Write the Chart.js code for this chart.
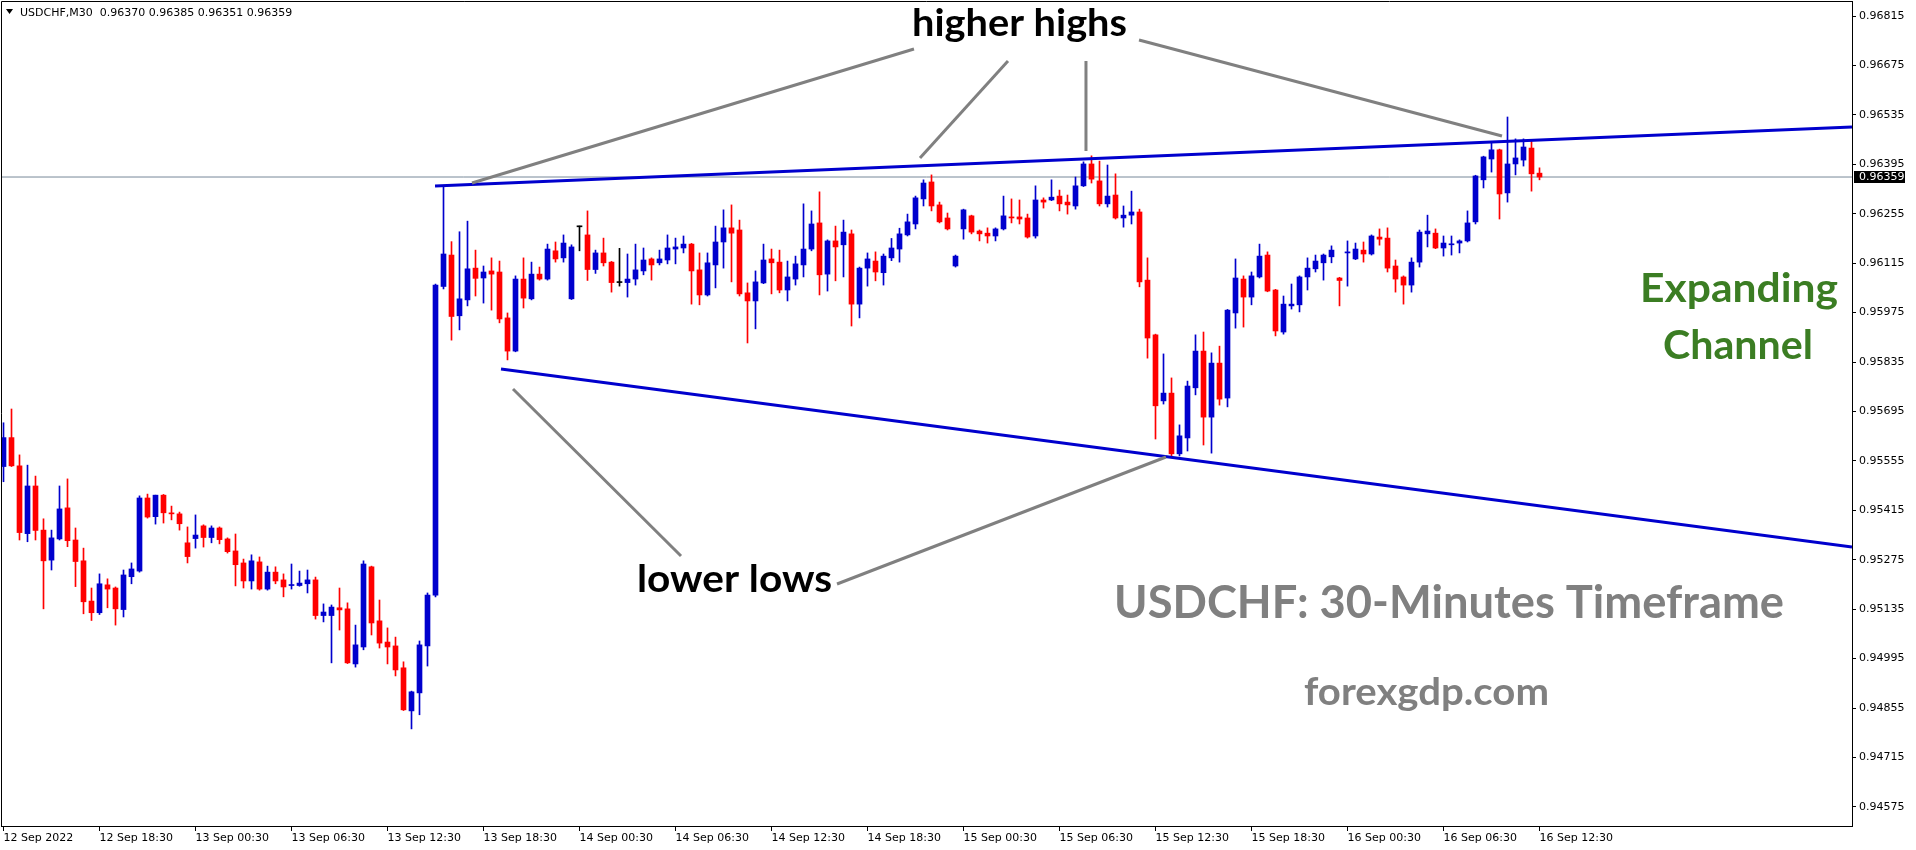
<!DOCTYPE html>
<html><head><meta charset="utf-8">
<script src="https://cdn.jsdelivr.net/npm/chart.js@4/dist/chart.umd.min.js"></script>
<style>html,body{margin:0;padding:0;background:#fff;overflow:hidden}canvas{display:block}</style>
</head><body>
<canvas id="c" width="1916" height="850"></canvas>
<script>
// ---------- DATA ----------
const symbolTitle = 'USDCHF,M30';
const timeLabels = ['12 Sep 2022','12 Sep 18:30','13 Sep 00:30','13 Sep 06:30','13 Sep 12:30','13 Sep 18:30','14 Sep 00:30','14 Sep 06:30','14 Sep 12:30','14 Sep 18:30','15 Sep 00:30','15 Sep 06:30','15 Sep 12:30','15 Sep 18:30','16 Sep 00:30','16 Sep 06:30','16 Sep 12:30'];
const timeLabelBars = [0,12,24,36,48,60,72,84,96,108,120,132,144,156,168,180,192];
const priceTicks = [0.94575,0.94715,0.94855,0.94995,0.95135,0.95275,0.95415,0.95555,0.95695,0.95835,0.95975,0.96115,0.96255,0.96395,0.96535,0.96675,0.96815];

const opens = [0.95539,0.95621,0.95541,0.95349,0.95484,0.95359,0.95274,0.95334,0.95422,0.95331,0.95272,0.95158,0.95125,0.95204,0.95195,0.95134,0.95227,0.95243,0.95450,0.95397,
0.95458,0.95407,0.95405,0.95323,0.95335,0.95371,0.95338,0.95365,0.95334,0.95300,0.95266,0.95215,0.95269,0.95192,0.95240,0.95218,0.95202,0.95202,0.95207,0.95218,
0.95117,0.95117,0.95139,0.95136,0.94980,0.95028,0.95255,0.95102,0.95042,0.95031,0.94969,0.94847,0.94898,0.95031,0.95175,0.96049,0.96138,0.95966,0.96011,0.96101,
0.96073,0.96093,0.96090,0.95960,0.95866,0.96070,0.96014,0.96084,0.96070,0.96150,0.96130,0.96014,0.96218,0.96195,0.96097,0.96144,0.96118,0.96060,0.96060,0.96070,
0.96093,0.96127,0.96116,0.96124,0.96155,0.96158,0.96169,0.96096,0.96025,0.96110,0.96175,0.96215,0.96209,0.96031,0.96008,0.96059,0.96127,0.96118,0.96039,0.96070,
0.96110,0.96155,0.96229,0.96084,0.96178,0.96167,0.96198,0.95999,0.96101,0.96121,0.96088,0.96130,0.96155,0.96195,0.96226,0.96297,0.96345,0.96280,0.96243,0.96107,
0.96212,0.96249,0.96206,0.96200,0.96192,0.96212,0.96246,0.96246,0.96243,0.96192,0.96294,0.96294,0.96305,0.96288,0.96277,0.96334,0.96396,0.96348,0.96283,0.96308,
0.96243,0.96251,0.96260,0.96067,0.95912,0.95725,0.95747,0.95575,0.95620,0.95762,0.95866,0.95679,0.95832,0.95733,0.95974,0.96070,0.96019,0.96076,0.96138,0.96039,
0.95920,0.95994,0.95997,0.96076,0.96099,0.96116,0.96133,0.96073,0.96144,0.96127,0.96152,0.96141,0.96189,0.96186,0.96107,0.96076,0.96053,0.96118,0.96198,0.96200,
0.96158,0.96167,0.96172,0.96178,0.96232,0.96351,0.96410,0.96436,0.96314,0.96396,0.96407,0.96441,0.96370];
const highs = [0.95663,0.95702,0.95572,0.95543,0.95512,0.95391,0.95359,0.95484,0.95504,0.95365,0.95308,0.95195,0.95235,0.95221,0.95198,0.95246,0.95266,0.95456,0.95461,0.95458,
0.95460,0.95427,0.95410,0.95368,0.95402,0.95374,0.95371,0.95368,0.95337,0.95348,0.95277,0.95289,0.95283,0.95257,0.95255,0.95235,0.95263,0.95243,0.95246,0.95226,
0.95150,0.95147,0.95195,0.95153,0.95090,0.95272,0.95257,0.95161,0.95082,0.95056,0.94986,0.94903,0.95045,0.95181,0.96056,0.96332,0.96176,0.96204,0.96234,0.96152,
0.96107,0.96130,0.96121,0.95974,0.96079,0.96130,0.96118,0.96104,0.96169,0.96175,0.96195,0.96167,0.96220,0.96263,0.96152,0.96186,0.96120,0.96157,0.96141,0.96169,
0.96158,0.96130,0.96152,0.96195,0.96186,0.96192,0.96171,0.96144,0.96144,0.96220,0.96266,0.96280,0.96237,0.96059,0.96093,0.96169,0.96155,0.96152,0.96121,0.96135,
0.96283,0.96263,0.96317,0.96181,0.96220,0.96237,0.96209,0.96104,0.96144,0.96147,0.96141,0.96185,0.96214,0.96254,0.96305,0.96351,0.96365,0.96288,0.96257,0.96138,
0.96268,0.96251,0.96209,0.96215,0.96215,0.96305,0.96297,0.96294,0.96254,0.96334,0.96300,0.96351,0.96322,0.96308,0.96359,0.96402,0.96419,0.96404,0.96393,0.96368,
0.96277,0.96319,0.96268,0.96130,0.95914,0.95858,0.95790,0.95657,0.95781,0.95912,0.95920,0.95861,0.95880,0.95984,0.96127,0.96079,0.96090,0.96169,0.96147,0.96041,
0.96022,0.96056,0.96079,0.96130,0.96138,0.96141,0.96164,0.96075,0.96178,0.96172,0.96175,0.96195,0.96212,0.96215,0.96124,0.96079,0.96130,0.96209,0.96251,0.96212,
0.96192,0.96192,0.96181,0.96263,0.96364,0.96418,0.96455,0.96438,0.96529,0.96467,0.96467,0.96464,0.96385];
const lows = [0.95496,0.95539,0.95331,0.95326,0.95331,0.95136,0.95246,0.95331,0.95312,0.95199,0.95122,0.95103,0.95120,0.95139,0.95090,0.95113,0.95207,0.95240,0.95393,0.95376,
0.95379,0.95388,0.95359,0.95266,0.95308,0.95311,0.95323,0.95320,0.95294,0.95201,0.95195,0.95192,0.95189,0.95189,0.95207,0.95170,0.95192,0.95200,0.95181,0.95107,
0.95099,0.94983,0.95076,0.94981,0.94971,0.95020,0.95062,0.95025,0.94980,0.94946,0.94848,0.94796,0.94836,0.94974,0.95170,0.96042,0.95897,0.95926,0.95994,0.96022,
0.96002,0.95982,0.95946,0.95841,0.95864,0.95988,0.96011,0.96067,0.96067,0.96118,0.96118,0.96012,0.96150,0.96066,0.96086,0.96107,0.96033,0.96050,0.96019,0.96053,
0.96082,0.96067,0.96110,0.96113,0.96113,0.96144,0.95999,0.95997,0.96022,0.96045,0.96101,0.96062,0.96022,0.95889,0.95929,0.96057,0.96028,0.96031,0.96008,0.96053,
0.96076,0.96150,0.96025,0.96036,0.96065,0.96076,0.95937,0.95960,0.96050,0.96065,0.96053,0.96122,0.96118,0.96192,0.96212,0.96277,0.96263,0.96229,0.96209,0.96104,
0.96183,0.96198,0.96178,0.96172,0.96178,0.96209,0.96229,0.96226,0.96186,0.96186,0.96271,0.96292,0.96263,0.96254,0.96268,0.96332,0.96342,0.96277,0.96274,0.96240,
0.96217,0.96226,0.96048,0.95846,0.95617,0.95716,0.95569,0.95569,0.95583,0.95742,0.95600,0.95577,0.95713,0.95708,0.95931,0.95934,0.95997,0.96073,0.96034,0.95909,
0.95914,0.95985,0.95977,0.96039,0.96090,0.96067,0.96116,0.95994,0.96050,0.96125,0.96118,0.96138,0.96166,0.96090,0.96033,0.95999,0.96033,0.96104,0.96161,0.96156,
0.96135,0.96138,0.96144,0.96175,0.96226,0.96328,0.96373,0.96240,0.96288,0.96365,0.96390,0.96319,0.96351];
const closes = [0.95621,0.95541,0.95352,0.95484,0.95358,0.95272,0.95337,0.95419,0.95329,0.95270,0.95156,0.95125,0.95207,0.95192,0.95136,0.95232,0.95249,0.95450,0.95396,0.95458,
0.95408,0.95405,0.95377,0.95284,0.95345,0.95338,0.95365,0.95332,0.95298,0.95261,0.95215,0.95272,0.95192,0.95240,0.95215,0.95198,0.95204,0.95209,0.95218,0.95117,
0.95127,0.95141,0.95133,0.94983,0.95034,0.95263,0.95096,0.95039,0.95028,0.94963,0.94850,0.94901,0.95034,0.95175,0.96053,0.96141,0.95964,0.96014,0.96099,0.96072,
0.96090,0.96084,0.95957,0.95866,0.96070,0.96016,0.96084,0.96070,0.96155,0.96127,0.96172,0.96161,0.96218,0.96097,0.96144,0.96116,0.96060,0.96060,0.96070,0.96096,
0.96124,0.96110,0.96127,0.96158,0.96161,0.96169,0.96093,0.96025,0.96116,0.96175,0.96215,0.96200,0.96028,0.96008,0.96062,0.96124,0.96116,0.96039,0.96076,0.96113,
0.96155,0.96226,0.96082,0.96178,0.96161,0.96203,0.95999,0.96101,0.96127,0.96090,0.96135,0.96158,0.96198,0.96232,0.96300,0.96342,0.96277,0.96232,0.96212,0.96135,
0.96266,0.96203,0.96198,0.96192,0.96212,0.96249,0.96243,0.96240,0.96189,0.96294,0.96288,0.96302,0.96283,0.96280,0.96334,0.96396,0.96353,0.96283,0.96305,0.96243,
0.96251,0.96260,0.96062,0.95903,0.95711,0.95747,0.95575,0.95626,0.95767,0.95866,0.95679,0.95832,0.95730,0.95982,0.96073,0.96019,0.96079,0.96135,0.96036,0.95923,
0.95999,0.95999,0.96076,0.96101,0.96121,0.96138,0.96152,0.96066,0.96147,0.96155,0.96141,0.96192,0.96183,0.96101,0.96070,0.96053,0.96118,0.96203,0.96206,0.96158,
0.96172,0.96169,0.96178,0.96229,0.96362,0.96416,0.96436,0.96311,0.96396,0.96413,0.96444,0.96368,0.96359];
const lastPrice = 0.96359;

// drawn objects (bar index, price)
const upperChannel = [{x:53.94,y:0.963334},{x:231.06,y:0.965006}];
const lowerChannel = [{x:62.19,y:0.958153},{x:231.06,y:0.953112}];
const pointerHH1 = [{x:113.81,y:0.967215},{x:58.56,y:0.963420}];
const pointerHH2 = [{x:125.56,y:0.966876},{x:114.56,y:0.964129}];
const pointerHH3 = [{x:135.31,y:0.966876},{x:135.31,y:0.964327}];
const pointerHH4 = [{x:141.94,y:0.967470},{x:187.31,y:0.964752}];
const pointerLL1 = [{x:84.69,y:0.952857},{x:63.69,y:0.957587}];
const pointerLL2 = [{x:104.19,y:0.952064},{x:145.31,y:0.955661}];

// ---------- CHART ----------
const BULL = '#0000cd', BEAR = '#ff0000', DOJI = '#000000';
const candleColors = opens.map((o,i)=> closes[i]>o ? BULL : (closes[i]<o ? BEAR : DOJI));
const wickData = opens.map((o,i)=>({x:i, y:[lows[i], highs[i]]}));
const bodyData = opens.map((o,i)=>({x:i, y:[o, closes[i]]}));
const X_MIN = -0.3125, X_MAX = 231.0625;
const Y_MIN = 0.945210, Y_MAX = 0.968575;
const fmt = v => v.toFixed(5);

function lineDs(data, color, width, order){
  return {type:'line', data, borderColor:color, borderWidth:width, pointRadius:0, tension:0, fill:false, order, borderCapStyle:'butt'};
}

const overlay = {
  id:'overlay',
  afterDraw(chart){
    const ctx = chart.ctx, a = chart.chartArea, ys = chart.scales.y;
    ctx.save();
    // frame left & top
    ctx.strokeStyle='#000'; ctx.lineWidth=1;
    ctx.beginPath(); ctx.moveTo(a.left+0.5, a.bottom); ctx.lineTo(a.left+0.5, a.top+0.5); ctx.lineTo(a.right, a.top+0.5); ctx.stroke();
    // header
    ctx.fillStyle='#000';
    ctx.beginPath(); ctx.moveTo(6,9); ctx.lineTo(13,9); ctx.lineTo(9.5,14); ctx.closePath(); ctx.fill();
    ctx.font='11px "DejaVu Sans"'; ctx.textBaseline='alphabetic'; ctx.textAlign='left';
    const n = opens.length-1;
    ctx.fillText(symbolTitle+'  '+fmt(opens[n])+' '+fmt(highs[n])+' '+fmt(lows[n])+' '+fmt(closes[n]), 20, 16);
    // last price box
    const py = Math.round(ys.getPixelForValue(lastPrice));
    ctx.fillStyle='#000'; ctx.fillRect(a.right+2, py-6, 51, 12);
    ctx.fillStyle='#fff'; ctx.textBaseline='middle'; ctx.fillText(fmt(lastPrice), a.right+7, py+0.5);
    // annotations
    function fit(text, cx, base, size, w, color){
      ctx.font = 'bold '+size+'px Lato';
      const m = ctx.measureText(text).width;
      ctx.save(); ctx.translate(cx, base); ctx.scale(w/m, 1);
      ctx.fillStyle=color; ctx.textAlign='center'; ctx.textBaseline='alphabetic';
      ctx.fillText(text, 0, 0); ctx.restore();
    }
    fit('higher highs', 1019.5, 36, 38, 215, '#000');
    fit('lower lows', 734.5, 592, 38, 195, '#000');
    fit('Expanding', 1739, 302, 41, 198, '#3b7d23');
    fit('Channel', 1738, 359, 41, 150, '#3b7d23');
    fit('USDCHF: 30-Minutes Timeframe', 1449, 618, 46, 670, '#808080');
    fit('forexgdp.com', 1426.5, 705, 38, 245, '#808080');
    ctx.restore();
  }
};

new Chart(document.getElementById('c'), {
  type:'bar',
  data:{ datasets:[
    lineDs(pointerHH1,'#808080',3,0), lineDs(pointerHH2,'#808080',3,0), lineDs(pointerHH3,'#808080',3,0), lineDs(pointerHH4,'#808080',3,0),
    lineDs(pointerLL1,'#808080',3,0), lineDs(pointerLL2,'#808080',3,0),
    lineDs(upperChannel,'#0000cd',3,1), lineDs(lowerChannel,'#0000cd',3,1),
    {type:'bar', data:bodyData, backgroundColor:candleColors, barThickness:5, grouped:false, minBarLength:1, borderWidth:0, order:2},
    {type:'bar', data:wickData, backgroundColor:candleColors, barThickness:1, grouped:false, borderWidth:0, order:3},
    lineDs([{x:X_MIN,y:lastPrice},{x:X_MAX,y:lastPrice}],'#778899',1,4)
  ]},
  options:{
    responsive:false, animation:false, devicePixelRatio:1, events:[],
    layout:{padding:{left:1,top:1,right:0,bottom:0}},
    plugins:{legend:{display:false}, tooltip:{enabled:false}},
    scales:{
      x:{type:'linear', position:'bottom', min:X_MIN, max:X_MAX, offset:false,
        grid:{display:true, drawOnChartArea:false, drawTicks:true, tickLength:5, color:'#000', offset:false},
        border:{display:true, color:'#000'},
        afterBuildTicks: s => { s.ticks = timeLabelBars.map(v=>({value:v})); },
        afterFit: s => { s.height = 24; s.paddingLeft = 0; s.paddingRight = 0; },
        ticks:{autoSkip:false, maxRotation:0, minRotation:0, align:'start', padding:1, color:'#000',
          font:{family:'DejaVu Sans', size:11}, callback:(v,i)=>timeLabels[i]}
      },
      y:{type:'linear', position:'right', min:Y_MIN, max:Y_MAX,
        grid:{display:true, drawOnChartArea:false, drawTicks:true, tickLength:4, color:'#000'},
        border:{display:true, color:'#000'},
        afterBuildTicks: s => { s.ticks = priceTicks.map(v=>({value:v})); },
        afterFit: s => { s.width = 64; s.paddingTop = 0; s.paddingBottom = 0; },
        ticks:{padding:3, color:'#000', font:{family:'DejaVu Sans', size:11}, callback:v=>fmt(v)}
      }
    }
  },
  plugins:[overlay]
});
</script>
</body></html>
